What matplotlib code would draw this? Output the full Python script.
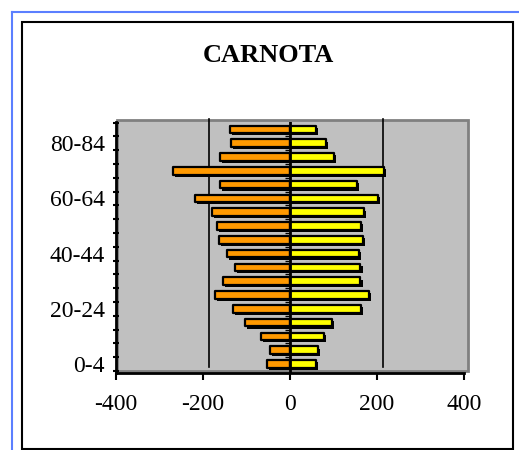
import matplotlib.pyplot as plt
import matplotlib.patheffects as pe
from matplotlib.patches import Rectangle
from matplotlib.lines import Line2D
from matplotlib import transforms
import numpy as np

plt.rcParams['font.family'] = ['Liberation Serif', 'DejaVu Serif']

groups = ['0-4', '5-9', '10-14', '15-19', '20-24', '25-29', '30-34', '35-39',
          '40-44', '45-49', '50-54', '55-59', '60-64', '65-69', '70-74',
          '75-79', '80-84', '85+']
men = [-52, -46, -66, -103, -131, -173, -155, -127, -145, -164, -168, -180,
       -218, -162, -270, -162, -135, -139]
women = [60, 65, 78, 96, 163, 181, 162, 162, 158, 167, 163, 171, 202, 153,
         217, 101, 82, 59]
xticks = [-400, -200, 0, 200, 400]

W, H = 519, 450
fig = plt.figure(figsize=(W / 100, H / 100), dpi=100)

def px(x0, y0, x1, y1):
    # pixel box (top-left origin) -> figure fraction rect
    return [x0 / W, 1 - y1 / H, (x1 - x0) / W, (y1 - y0) / H]

# outer blue border and black chart frame
fig.add_artist(Line2D([12 / W, 12 / W], [0, 1 - 12 / H], color='#5b7fff', lw=1.5))
fig.add_artist(Line2D([12 / W, 1], [1 - 12 / H, 1 - 12 / H], color='#5b7fff', lw=1.5))
fig.add_artist(Rectangle((22 / W, 1 - 449 / H), (513 - 22) / W, (449 - 22) / H,
                         transform=fig.transFigure, fill=False, ec='black', lw=1.5))

# grey back wall (3D look)
fig.add_artist(Rectangle((117 / W, 1 - 371 / H), (468 - 117) / W, (371 - 120) / H,
                         transform=fig.transFigure, fc='#c0c0c0', ec='#808080', lw=2,
                         zorder=0.5))

fig.text(268 / W, 1 - 55 / H, 'CARNOTA', ha='center', va='center',
         fontsize=19, fontweight='bold')

ax = fig.add_axes(px(116, 122, 464, 373))
ax.set_zorder(1)
ax.set_facecolor('none')
y = np.arange(len(groups))

shadow = [pe.SimplePatchShadow(offset=(1.5, -1.5), shadow_rgbFace='black', alpha=1),
          pe.Normal()]
b1 = ax.barh(y, men, height=0.55, color='#ff9900', edgecolor='black', lw=1.6, zorder=3)
b2 = ax.barh(y, women, height=0.55, color='#ffff00', edgecolor='black', lw=1.6, zorder=3)
for b in list(b1) + list(b2):
    b.set_path_effects(shadow)
    b.set_joinstyle('round')

ax.set_xlim(-400, 400)
ax.set_ylim(-0.65, 17.54)

# gridlines on the back wall, shifted for the 3D depth
grid_tr = transforms.offset_copy(ax.get_xaxis_transform(), fig=fig, x=5.5, y=0, units='dots')
for t in xticks[1:-1]:
    if t != 0:
        ax.plot([t, t], [0.025, 1.01], color='black', lw=1.2, transform=grid_tr,
                zorder=1, clip_on=False)
ax.axvline(0, color='black', lw=2, zorder=4)
ax.hlines(y[:-1] + 0.5, -12, 0, color='black', lw=1, zorder=4)

for s in ['top', 'right']:
    ax.spines[s].set_visible(False)
for s in ['left', 'bottom']:
    ax.spines[s].set_linewidth(2)

ax.set_xticks(xticks)
ax.set_xticklabels([str(t) for t in xticks], fontsize=17)
ax.tick_params(axis='x', length=5, width=1.5, pad=10)

ax.set_yticks(y[::4])
ax.set_yticklabels(groups[::4], fontsize=17)
ax.set_yticks(np.append(y - 0.5, y[-1] + 0.5), minor=True)
ax.tick_params(axis='y', which='major', length=0, pad=8)
ax.tick_params(axis='y', which='minor', length=5, width=1.5, direction='inout')

fig.savefig('out.png', dpi=100)
